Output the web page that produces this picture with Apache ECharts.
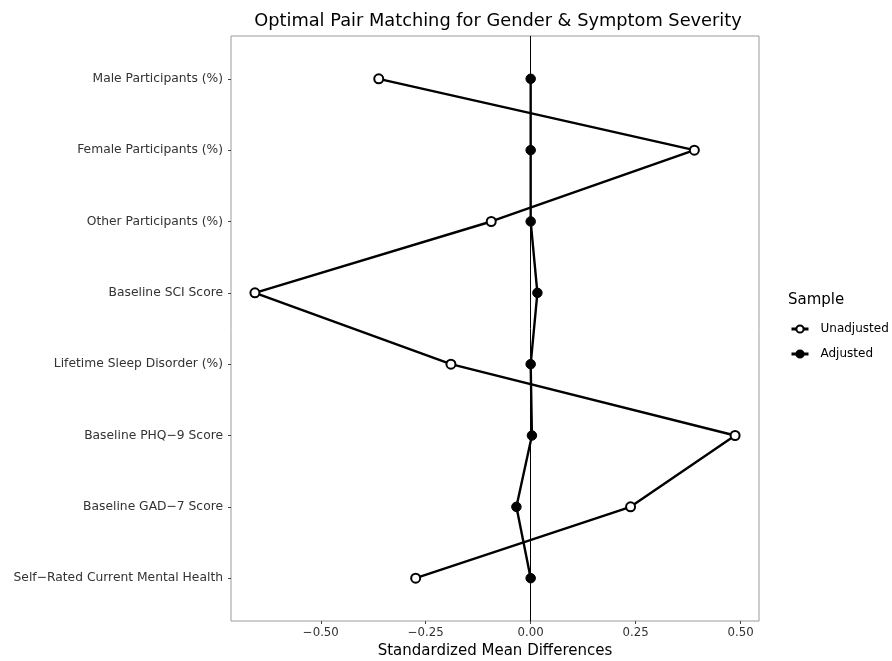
<!DOCTYPE html>
<html>
<head>
<meta charset="utf-8">
<script src="https://cdn.jsdelivr.net/npm/echarts@6/dist/echarts.min.js"></script>
<style>
  html, body { margin: 0; padding: 0; background: #fff; }
  #chart { width: 892px; height: 661px; }
</style>
</head>
<body>
<div id="chart"></div>
<script>
// Covariates, listed top to bottom
const covariates = [
  "Male Participants (%)",
  "Female Participants (%)",
  "Other Participants (%)",
  "Baseline SCI Score",
  "Lifetime Sleep Disorder (%)",
  "Baseline PHQ\u22129 Score",
  "Baseline GAD\u22127 Score",
  "Self\u2212Rated Current Mental Health"
];

// Standardized mean differences before and after matching
const unadjusted = [-0.362, 0.390, -0.094, -0.657, -0.190, 0.487, 0.238, -0.274];
const adjusted   = [0.000, 0.000, 0.000, 0.016, 0.000, 0.003, -0.034, 0.000];

const xTicks = [-0.5, -0.25, 0, 0.25, 0.5];
const yTicks = covariates.map((_, i) => i + 1);

const FONT = "'DejaVu Sans', 'Liberation Sans', Arial, sans-serif";

function toPoints(values) {
  return values.map((v, i) => [v, i + 1]);
}

function fmtTick(v) {
  const s = Math.abs(v).toFixed(2);
  return v < 0 ? "\u2212" + s : s;
}

const chart = echarts.init(document.getElementById("chart"), null, { renderer: "canvas" });

chart.setOption({
  animation: false,
  backgroundColor: "#ffffff",
  title: [
    {
      text: "Optimal Pair Matching for Gender & Symptom Severity",
      left: 493, top: 7, textAlign: "center",
      textStyle: { fontFamily: FONT, fontSize: 17.8, fontWeight: "normal", color: "#000" }
    },
    {
      text: "Sample",
      left: 783, top: 288,
      textStyle: { fontFamily: FONT, fontSize: 15, fontWeight: "normal", color: "#000" }
    }
  ],
  legend: {
    orient: "vertical",
    left: 785, top: 318,
    itemWidth: 17, itemHeight: 9, itemGap: 13,
    textStyle: { fontFamily: FONT, fontSize: 12, color: "#000", padding: [0, 0, 0, 7] },
    data: [
      { name: "Unadjusted", lineStyle: { width: 3, color: "#000" } },
      { name: "Adjusted", lineStyle: { width: 3, color: "#000" } }
    ]
  },
  grid: { left: 231, right: 133, top: 36, bottom: 40, containLabel: false,
          outerBoundsMode: "none",
          show: true, borderColor: "#9a9a9a", borderWidth: 1 },
  xAxis: {
    type: "value",
    min: -0.714, max: 0.544,
    name: "Standardized Mean Differences",
    nameLocation: "middle", nameGap: 23,
    nameTextStyle: { fontFamily: FONT, fontSize: 15, color: "#000" },
    axisLine: { show: false, onZero: false },
    splitLine: { show: false },
    axisTick: { show: true, customValues: xTicks, length: 3, lineStyle: { color: "#444" } },
    axisLabel: { customValues: xTicks, formatter: fmtTick, margin: 6,
                 fontFamily: FONT, fontSize: 11.75, color: "#333" }
  },
  yAxis: {
    type: "value",
    inverse: true,
    min: 0.4, max: 8.6,
    axisLine: { show: false, onZero: false },
    splitLine: { show: false },
    axisTick: { show: true, customValues: yTicks, length: 3, lineStyle: { color: "#444" } },
    axisLabel: {
      customValues: yTicks,
      formatter: v => covariates[Math.round(v) - 1] || "",
      margin: 8, fontFamily: FONT, fontSize: 12.3, color: "#333"
    }
  },
  series: [
    {
      name: "Zero",
      type: "line",
      data: [],
      silent: true,
      markLine: {
        symbol: "none", silent: true,
        label: { show: false },
        lineStyle: { color: "#000", width: 1, type: "solid" },
        data: [{ xAxis: 0 }]
      }
    },
    {
      name: "Unadjusted",
      type: "line",
      data: toPoints(unadjusted),
      symbol: "circle", symbolSize: 9,
      lineStyle: { color: "#000", width: 2.4 },
      itemStyle: { color: "#fff", borderColor: "#000", borderWidth: 2 },
      z: 3
    },
    {
      name: "Adjusted",
      type: "line",
      data: toPoints(adjusted),
      symbol: "circle", symbolSize: 9.5,
      lineStyle: { color: "#000", width: 2.4 },
      itemStyle: { color: "#000", borderColor: "#000", borderWidth: 1 },
      z: 4
    }
  ]
});
</script>
</body>
</html>
